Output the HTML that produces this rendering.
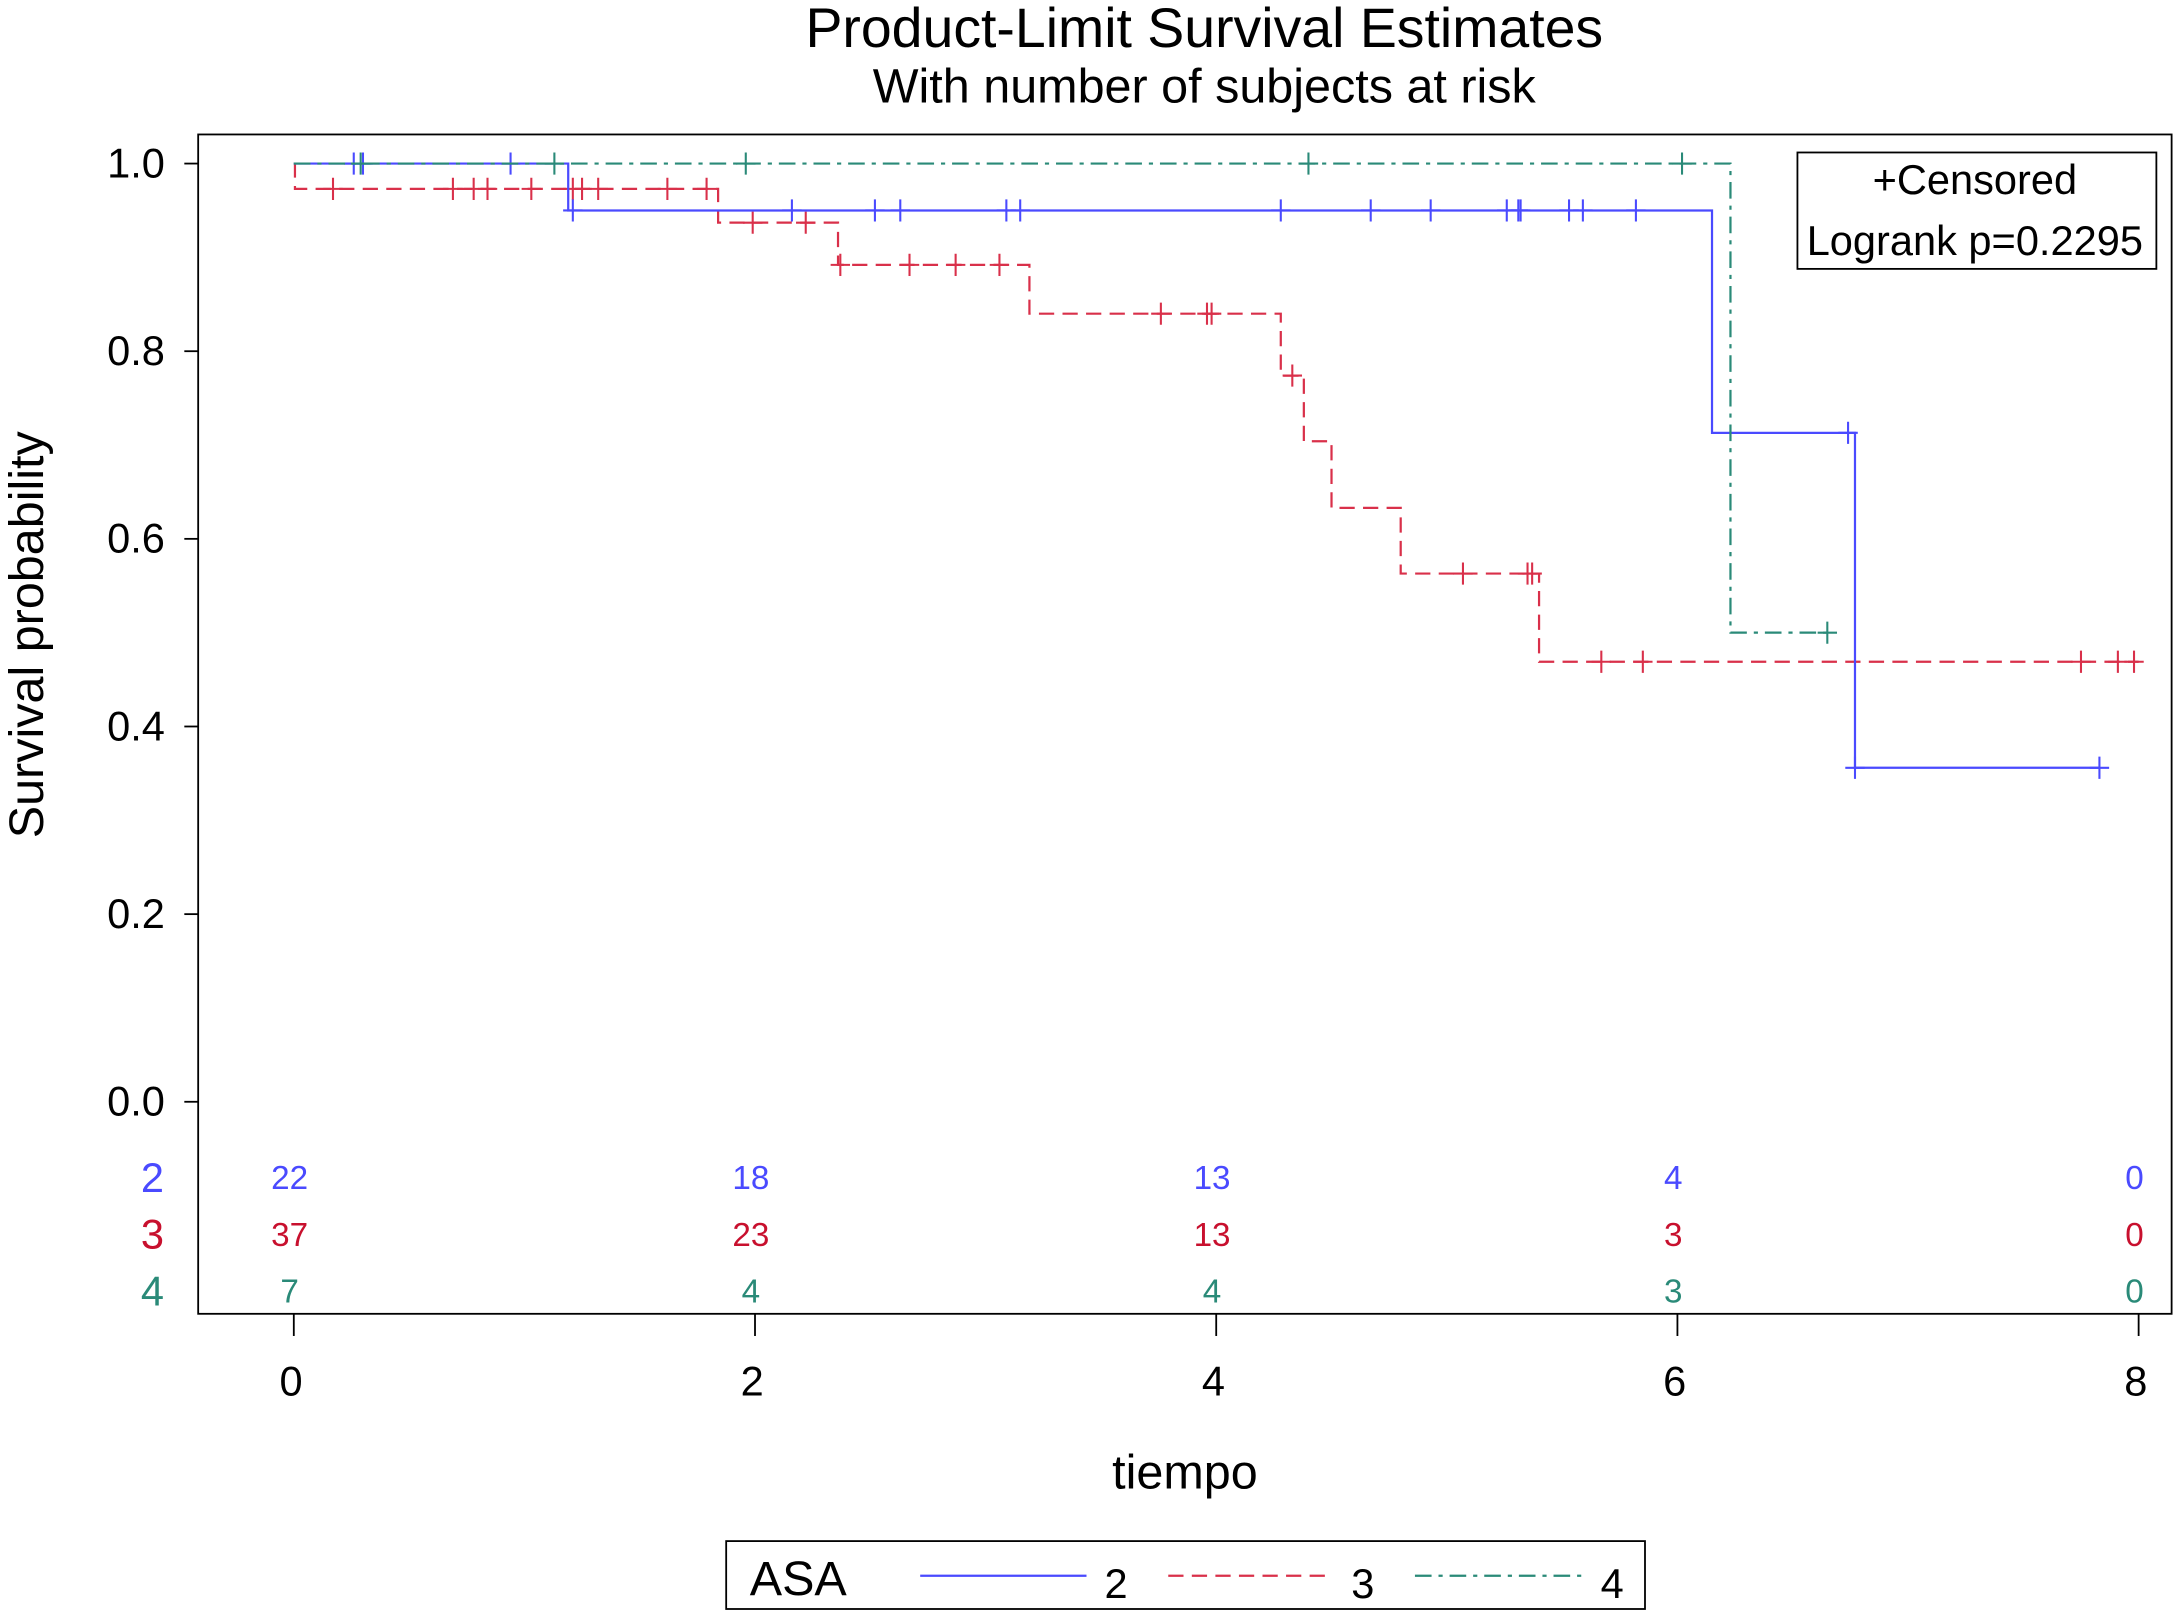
<!DOCTYPE html>
<html><head><meta charset="utf-8"><style>
html,body{margin:0;padding:0;background:#fff;}
svg{display:block;font-family:"Liberation Sans",Arial,sans-serif;}
</style></head><body>
<svg id="chart" width="2173" height="1610" viewBox="0 0 1568 1161.7" xmlns="http://www.w3.org/2000/svg">
<text x="869" y="34" font-size="40" text-anchor="middle">Product-Limit Survival Estimates</text>
<text x="869" y="74" font-size="35" text-anchor="middle">With number of subjects at risk</text>
<rect x="143" y="97" width="1424" height="851" fill="none" stroke="#000" stroke-width="1.3"/>
<g id="yaxis"></g>
<g id="xaxis"></g>
<text transform="translate(31,458) rotate(-90)" font-size="35" text-anchor="middle">Survival probability</text>
<text x="855" y="1074" font-size="35" text-anchor="middle">tiempo</text>
<g id="series"></g>
<g id="risk"></g>
<g>
<rect x="1297" y="110" width="259" height="84" fill="#fff" stroke="#000" stroke-width="1.3"/>
<text x="1425" y="140" font-size="30" text-anchor="middle">+Censored</text>
<text x="1425" y="184" font-size="30" text-anchor="middle">Logrank p=0.2295</text>
</g>
<g>
<rect x="524" y="1112" width="663" height="49" fill="#fff" stroke="#000" stroke-width="1.3"/>
<text x="541" y="1151" font-size="35">ASA</text>
<line x1="664" y1="1137" x2="784" y2="1137" stroke="#4a4aff" stroke-width="1.6"/>
<text x="797" y="1153" font-size="30">2</text>
<line x1="843" y1="1137" x2="962" y2="1137" stroke="#d9304a" stroke-width="1.6" stroke-dasharray="11,6"/>
<text x="975" y="1153" font-size="30">3</text>
<line x1="1021" y1="1137" x2="1141" y2="1137" stroke="#2a8a78" stroke-width="1.6" stroke-dasharray="12,5,3,5"/>
<text x="1155" y="1153" font-size="30">4</text>
</g>
</svg>
<script>
const xTicks = [0, 2, 4, 6, 8];
const yTicks = ["0.0","0.2","0.4","0.6","0.8","1.0"];
const groups = ["2", "3", "4"];
const t2 = [0, 1.19, 6.15, 6.77];
const s2 = [1.0, 0.95, 0.713, 0.356];
const end2 = 7.83;
const c2t = [0.26, 0.30, 0.94, 1.21, 2.16, 2.52, 2.63, 3.09, 3.15, 4.28, 4.67, 4.93, 5.26, 5.31, 5.32, 5.53, 5.59, 5.82, 6.74, 6.77, 7.83];
const t3 = [0, 0.005, 1.84, 2.36, 3.19, 4.28, 4.38, 4.50, 4.80, 5.40];
const s3 = [1.0, 0.973, 0.937, 0.892, 0.84, 0.774, 0.704, 0.633, 0.563, 0.469];
const end3 = 8.0;
const c3t = [0.17, 0.69, 0.78, 0.84, 1.03, 1.21, 1.25, 1.32, 1.62, 1.79, 1.99, 2.22, 2.37, 2.67, 2.87, 3.06, 3.76, 3.96, 3.98, 4.33, 5.07, 5.35, 5.37, 5.67, 5.85, 7.75, 7.91, 7.98];
const t4 = [0, 6.23];
const s4 = [1.0, 0.5];
const end4 = 6.67;
const c4t = [0.29, 1.13, 1.96, 4.40, 6.02, 6.65];
const risk2 = [22, 18, 13, 4, 0];
const risk3 = [37, 23, 13, 3, 0];
const risk4 = [7, 4, 4, 3, 0];

const NS = "http://www.w3.org/2000/svg";
const X = v => 212 + v * 166.4;
const Y = v => 795 - v * 677;
function mk(tag, attrs, parent) {
  const e = document.createElementNS(NS, tag);
  for (const k in attrs) e.setAttribute(k, attrs[k]);
  parent.appendChild(e);
  return e;
}
const ya = document.getElementById('yaxis');
yTicks.forEach(l => {
  const v = parseFloat(l);
  const ln = mk('line', {x1: 133, x2: 143, y1: Y(v), y2: Y(v), stroke: '#000', 'stroke-width': 1.3}, ya);
  
  
  const t = mk('text', {x: 119, y: Y(v) + 10, 'font-size': 30, 'text-anchor': 'end'}, ya);
  t.textContent = l;
  
  
});
const xa = document.getElementById('xaxis');
xTicks.forEach(v => {
  const ln = mk('line', {x1: X(v), x2: X(v), y1: 948, y2: 964, stroke: '#000', 'stroke-width': 1.3}, xa);
  
  
  const t = mk('text', {x: X(v) - 2, y: 1007, 'font-size': 30, 'text-anchor': 'middle'}, xa);
  t.textContent = v;
  
  
});
function survAt(ts, ss, t) {
  let s = ss[0];
  for (let i = 0; i < ts.length; i++) if (ts[i] <= t) s = ss[i];
  return s;
}
const sg = document.getElementById('series');
function drawSeries(ts, ss, end, cens, color, dash, name) {
  let d = 'M' + X(ts[0]) + ',' + Y(ss[0]);
  for (let i = 1; i < ts.length; i++) {
    d += ' L' + X(ts[i]) + ',' + Y(ss[i - 1]) + ' L' + X(ts[i]) + ',' + Y(ss[i]);
  }
  d += ' L' + X(end) + ',' + Y(ss[ss.length - 1]);
  const p = mk('path', {d: d, fill: 'none', stroke: color, 'stroke-width': 1.6, 'stroke-dasharray': dash}, sg);
  
  
  cens.forEach(c => {
    const y = Y(survAt(ts, ss, c)), x = X(c);
    const m = mk('path', {d: 'M' + (x - 7) + ',' + y + ' L' + (x + 7) + ',' + y + ' M' + x + ',' + (y - 8) + ' L' + x + ',' + (y + 8), stroke: color, 'stroke-width': 1.5, fill: 'none'}, sg);
    
    
  });
}
drawSeries(t3, s3, end3, c3t, '#d9304a', '11,6', 'asa3');
drawSeries(t2, s2, end2, c2t, '#4a4aff', 'none', 'asa2');
drawSeries(t4, s4, end4, c4t, '#2a8a78', '12,5,3,5', 'asa4');

const rg = document.getElementById('risk');
const riskRows = [risk2, risk3, risk4];
const riskCols = ['#4a4aff', '#c8102e', '#2a8a78'];
const rowY = [849, 890, 931];
groups.forEach((g, i) => {
  const lab = mk('text', {x: 110, y: rowY[i] + 11, 'font-size': 30, 'text-anchor': 'middle', fill: riskCols[i]}, rg);
  lab.textContent = g;
  
  
  riskRows[i].forEach((n, j) => {
    const t = mk('text', {x: X(xTicks[j]) - 3, y: rowY[i] + 9, 'font-size': 24, 'text-anchor': 'middle', fill: riskCols[i]}, rg);
    t.textContent = n;
    
    
  });
});
</script>
</body></html>
